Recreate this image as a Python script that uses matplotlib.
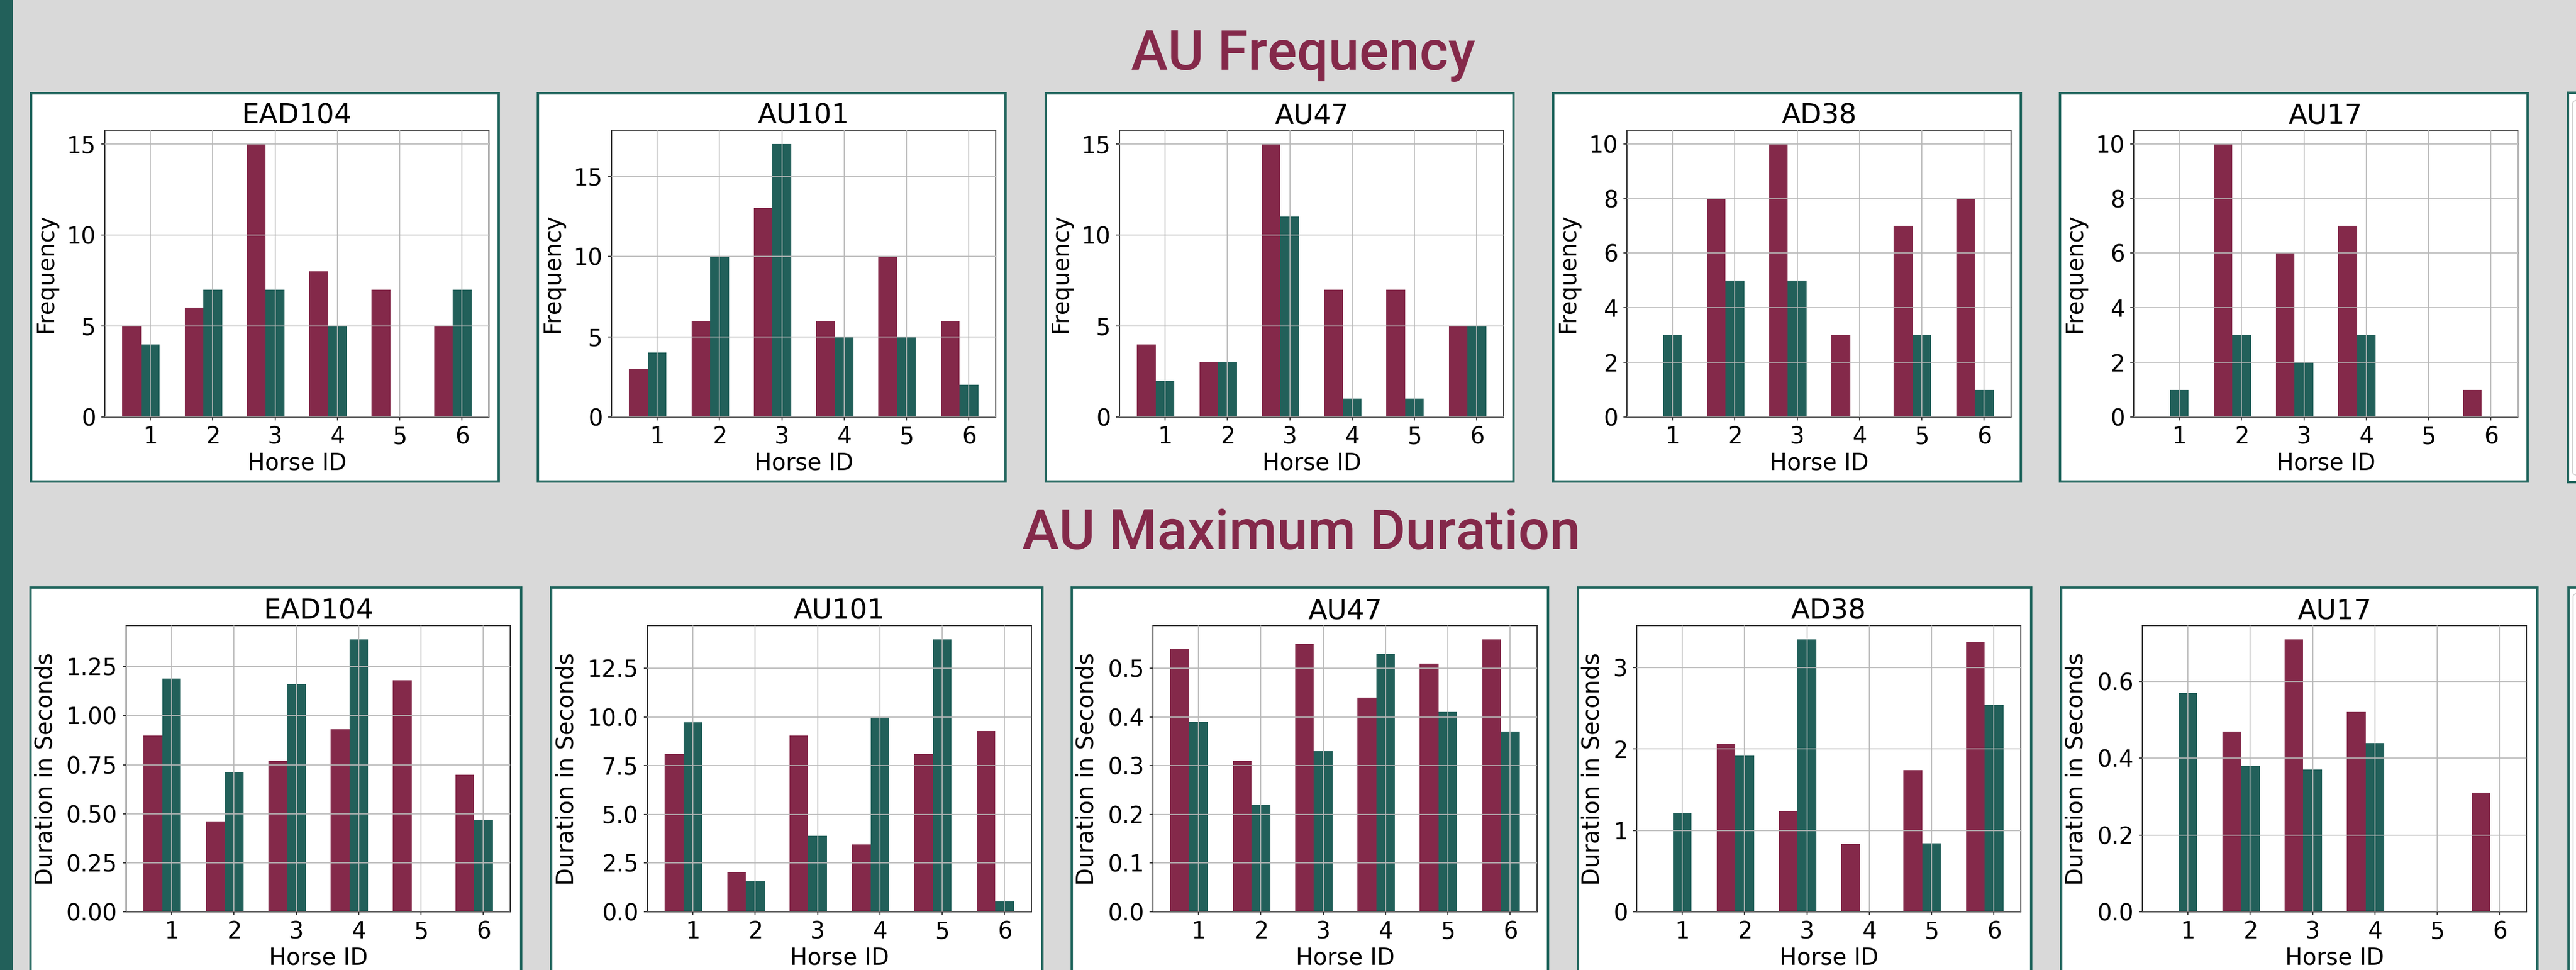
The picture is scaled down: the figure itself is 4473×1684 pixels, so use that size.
import matplotlib
matplotlib.use("Agg")
import matplotlib.pyplot as plt
from matplotlib.patches import Rectangle, FancyBboxPatch

# ---------------- data ----------------
horse_ids = [1, 2, 3, 4, 5, 6]
au_names = ["EAD104", "AU101", "AU47", "AD38", "AU17"]

# AU Frequency (maroon series, teal series)
freq_ead104_a = [5, 6, 15, 8, 7, 5]
freq_ead104_b = [4, 7, 7, 5, 0, 7]
freq_au101_a = [3, 6, 13, 6, 10, 6]
freq_au101_b = [4, 10, 17, 5, 5, 2]
freq_au47_a = [4, 3, 15, 7, 7, 5]
freq_au47_b = [2, 3, 11, 1, 1, 5]
freq_ad38_a = [0, 8, 10, 3, 7, 8]
freq_ad38_b = [3, 5, 5, 0, 3, 1]
freq_au17_a = [0, 10, 6, 7, 0, 1]
freq_au17_b = [1, 3, 2, 3, 0, 0]

# AU Maximum Duration in seconds (maroon series, teal series)
dur_ead104_a = [0.90, 0.46, 0.77, 0.93, 1.18, 0.70]
dur_ead104_b = [1.19, 0.71, 1.16, 1.39, 0.0, 0.47]
dur_au101_a = [8.1, 2.03, 9.06, 3.46, 8.1, 9.3]
dur_au101_b = [9.74, 1.57, 3.9, 9.98, 14.0, 0.52]
dur_au47_a = [0.54, 0.31, 0.55, 0.44, 0.51, 0.56]
dur_au47_b = [0.39, 0.22, 0.33, 0.53, 0.41, 0.37]
dur_ad38_a = [0.0, 2.07, 1.24, 0.835, 1.74, 3.32]
dur_ad38_b = [1.22, 1.92, 3.35, 0.0, 0.845, 2.54]
dur_au17_a = [0.0, 0.47, 0.71, 0.52, 0.0, 0.31]
dur_au17_b = [0.57, 0.38, 0.37, 0.44, 0.0, 0.0]

freq_ticks = [[0, 5, 10, 15], [0, 5, 10, 15], [0, 5, 10, 15],
              [0, 2, 4, 6, 8, 10], [0, 2, 4, 6, 8, 10]]
dur_ticks = [[0.0, 0.25, 0.5, 0.75, 1.0, 1.25],
             [0.0, 2.5, 5.0, 7.5, 10.0, 12.5],
             [0.0, 0.1, 0.2, 0.3, 0.4, 0.5],
             [0, 1, 2, 3],
             [0.0, 0.2, 0.4, 0.6]]
dur_tick_fmt = ["{:.2f}", "{:.1f}", "{:.1f}", "{:.0f}", "{:.1f}"]

freq_data = [(freq_ead104_a, freq_ead104_b), (freq_au101_a, freq_au101_b),
             (freq_au47_a, freq_au47_b), (freq_ad38_a, freq_ad38_b),
             (freq_au17_a, freq_au17_b)]
dur_data = [(dur_ead104_a, dur_ead104_b), (dur_au101_a, dur_au101_b),
            (dur_au47_a, dur_au47_b), (dur_ad38_a, dur_ad38_b),
            (dur_au17_a, dur_au17_b)]

# ---------------- style ----------------
W, H, DPI = 4473, 1684, 100
BG = "#d9d9d9"
MAROON = "#84294a"
TEAL = "#22605a"
BORDER = "#23675f"
LABEL_FS = 28.8
TITLE_FS = 34.5

plt.rcParams["font.family"] = ["DejaVu Sans"]

fig = plt.figure(figsize=(W / DPI, H / DPI), dpi=DPI, facecolor=BG)


def px_rect(x0, y0, x1, y1):
    return [x0 / W, 1 - y1 / H, (x1 - x0) / W, (y1 - y0) / H]


def add_box(x0, y0, x1, y1):
    l, b, w, h = px_rect(x0, y0, x1, y1)
    fig.add_artist(Rectangle((l, b), w, h, transform=fig.transFigure,
                             facecolor="white", edgecolor=BORDER,
                             linewidth=3.0, zorder=-1))


def add_legend_frame(x0, y0, x1, y1):
    l, b, w, h = px_rect(x0, y0, x1, y1)
    fig.add_artist(FancyBboxPatch((l, b), w, h, transform=fig.transFigure,
                                  boxstyle="round,pad=0,rounding_size=0.004",
                                  facecolor="white", edgecolor="#cfcfcf",
                                  linewidth=1.2, zorder=-0.5))


# left accent strip
fig.add_artist(Rectangle((0, 0), 22 / W, 1, transform=fig.transFigure,
                         facecolor=TEAL, edgecolor="none", zorder=-1))

# section titles
fig.text(2263 / W, 1 - 121 / H, "AU Frequency", ha="center", va="baseline",
         fontsize=69, color=MAROON, family=["Roboto", "DejaVu Sans"],
         fontweight="medium")
fig.text(2260 / W, 1 - 953 / H, "AU Maximum Duration", ha="center",
         va="baseline", fontsize=69, color=MAROON,
         family=["Roboto", "DejaVu Sans"], fontweight="medium")

BAR_W = 0.3


def draw_panel(ax, title, a, b, ylabel, ticks, fmt=None):
    ax.bar([x - BAR_W for x in horse_ids], a, width=BAR_W, color=MAROON)
    ax.bar(horse_ids, b, width=BAR_W, color=TEAL)
    ax.set_axisbelow(False)
    ax.grid(True, color="#b8b8b8", linewidth=1.2)
    ax.set_xticks(horse_ids)
    ax.set_xticklabels([str(h) for h in horse_ids])
    ax.set_yticks(ticks)
    if fmt is not None:
        ax.set_yticklabels([fmt.format(t) for t in ticks])
    ax.tick_params(labelsize=LABEL_FS, length=4, width=1.3, pad=7,
                   color="#333333")
    for s in ax.spines.values():
        s.set_linewidth(1.4)
        s.set_color("#333333")
    ax.set_title(title, fontsize=TITLE_FS, pad=8)
    ax.set_xlabel("Horse ID", fontsize=LABEL_FS, labelpad=4)
    ax.set_ylabel(ylabel, fontsize=LABEL_FS, labelpad=11)
    ax.set_facecolor("white")


# ---- top row: frequency ----
top_box_left = [54, 934, 1816, 2697, 3577]
for i, name in enumerate(au_names):
    x0 = top_box_left[i]
    add_box(x0, 162, x0 + 812, 836)
    ax = fig.add_axes(px_rect(x0 + 128, 226, x0 + 128 + 667, 724))
    a, b = freq_data[i]
    draw_panel(ax, name, a, b, "Frequency", freq_ticks[i])
# partial panel at right edge
add_box(4459, 161, 4600, 837)
add_legend_frame(4467, 173, 4600, 826)

# ---- bottom row: maximum duration ----
bot_boxes = [(53, 905), (957, 1810), (1861, 2688), (2740, 3527), (3579, 4406)]
bot_axes_left = [219, 1124, 2002, 2842, 3720]
for i, name in enumerate(au_names):
    bx0, bx1 = bot_boxes[i]
    add_box(bx0, 1020, bx1, 1760)
    x0 = bot_axes_left[i]
    ax = fig.add_axes(px_rect(x0, 1086, x0 + 667, 1583))
    a, b = dur_data[i]
    draw_panel(ax, name, a, b, "Duration in Seconds", dur_ticks[i],
               dur_tick_fmt[i])
add_box(4460, 1020, 4600, 1760)
add_legend_frame(4468, 1029, 4600, 1750)

fig.savefig("out.png", dpi=DPI, facecolor=BG)
